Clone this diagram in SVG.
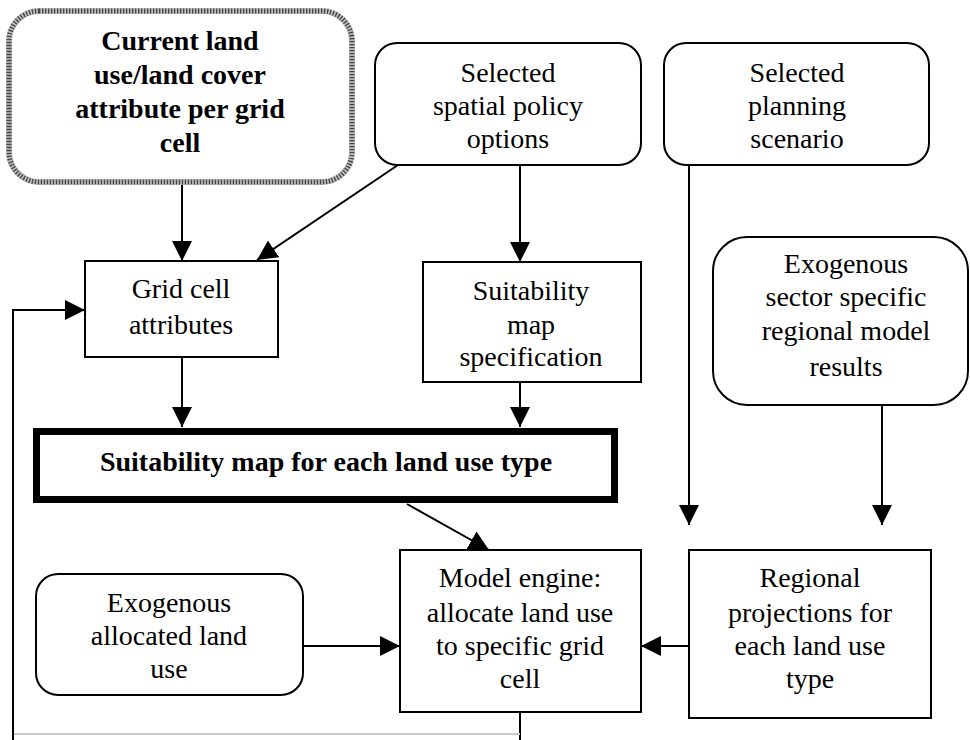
<svg xmlns="http://www.w3.org/2000/svg" width="970" height="740" viewBox="0 0 970 740">
  <defs>
    <marker id="arrow" markerUnits="userSpaceOnUse" markerWidth="20" markerHeight="20" refX="20" refY="10" orient="auto">
      <path d="M0,0 L20,10 L0,20 z" fill="#000"/>
    </marker>
  </defs>
  <style>
    text { font-family: "Liberation Serif", "Times New Roman", serif; font-size: 28px; fill: #000; text-anchor: middle; }
    .bold { font-weight: bold; }
    .box { fill: #fff; stroke: #000; stroke-width: 2; }
    .thick { fill: #fff; stroke: #000; stroke-width: 7; }
    .hatch-under { fill: #fff; stroke: #bdbdbd; stroke-width: 6; }
    .hatch { fill: none; stroke: #444; stroke-width: 5; stroke-dasharray: 1.3 1.7; }
    .link { fill: none; stroke: #000; stroke-width: 2; }
    .faint { fill: none; stroke: #c8c8c8; stroke-width: 2; }
  </style>

  <rect width="970" height="740" fill="#fff"/>

  <!-- connectors -->
  <g id="connectors">
    <line class="link" x1="182" y1="184" x2="182" y2="261" marker-end="url(#arrow)"/>
    <line class="link" x1="398" y1="165" x2="257" y2="260" marker-end="url(#arrow)"/>
    <line class="link" x1="520" y1="165" x2="520" y2="262" marker-end="url(#arrow)"/>
    <line class="link" x1="689" y1="165" x2="689" y2="525" marker-end="url(#arrow)"/>
    <line class="link" x1="882" y1="405" x2="882" y2="525" marker-end="url(#arrow)"/>
    <line class="link" x1="182" y1="357" x2="182" y2="427" marker-end="url(#arrow)"/>
    <line class="link" x1="520" y1="382" x2="520" y2="427" marker-end="url(#arrow)"/>
    <line class="link" x1="407" y1="504" x2="489" y2="550" marker-end="url(#arrow)"/>
    <line class="link" x1="303" y1="646" x2="400" y2="646" marker-end="url(#arrow)"/>
    <line class="link" x1="689" y1="646" x2="641" y2="646" marker-end="url(#arrow)"/>
    <!-- feedback loop from the model engine back to the grid cell attributes -->
    <line class="link" x1="520" y1="712" x2="520" y2="740"/>
    <line class="faint" x1="13" y1="734" x2="520" y2="734"/>
    <polyline class="link" points="13,740 13,310 85,310" marker-end="url(#arrow)"/>
  </g>

  <g id="current-land-use">
    <rect class="hatch-under" x="9" y="11" width="343" height="171" rx="30"/>
    <rect class="hatch" x="9" y="11" width="343" height="171" rx="30"/>
    <text class="bold" x="180" y="50">Current land</text>
    <text class="bold" x="180" y="84">use/land cover</text>
    <text class="bold" x="180" y="118">attribute per grid</text>
    <text class="bold" x="180" y="152">cell</text>
  </g>

  <g id="spatial-policy">
    <rect class="box" x="375" y="43" width="266" height="122" rx="22"/>
    <text x="508" y="82">Selected</text>
    <text x="508" y="115">spatial policy</text>
    <text x="508" y="148">options</text>
  </g>

  <g id="planning-scenario">
    <rect class="box" x="664" y="43" width="265" height="122" rx="22"/>
    <text x="797" y="82">Selected</text>
    <text x="797" y="115">planning</text>
    <text x="797" y="148">scenario</text>
  </g>

  <g id="grid-cell-attributes">
    <rect class="box" x="85" y="261" width="193" height="96"/>
    <text x="181" y="298">Grid cell</text>
    <text x="181" y="334">attributes</text>
  </g>

  <g id="suitability-spec">
    <rect class="box" x="423" y="262" width="218" height="120"/>
    <text x="531" y="300">Suitability</text>
    <text x="531" y="334">map</text>
    <text x="531" y="366">specification</text>
  </g>

  <g id="exogenous-sector">
    <rect class="box" x="713" y="237" width="255" height="168" rx="34"/>
    <text x="846" y="273">Exogenous</text>
    <text x="846" y="306">sector specific</text>
    <text x="846" y="340">regional model</text>
    <text x="846" y="376">results</text>
  </g>

  <g id="suitability-map">
    <rect class="thick" x="36.5" y="431.5" width="578" height="68"/>
    <text class="bold" x="326" y="471">Suitability map for each land use type</text>
  </g>

  <g id="exogenous-allocated">
    <rect class="box" x="36" y="574" width="267" height="121" rx="22"/>
    <text x="169" y="612">Exogenous</text>
    <text x="169" y="645">allocated land</text>
    <text x="169" y="678">use</text>
  </g>

  <g id="model-engine">
    <rect class="box" x="400" y="550" width="241" height="162"/>
    <text x="520" y="587">Model engine:</text>
    <text x="520" y="622">allocate land use</text>
    <text x="520" y="655">to specific grid</text>
    <text x="520" y="688">cell</text>
  </g>

  <g id="regional-projections">
    <rect class="box" x="689" y="550" width="242" height="168"/>
    <text x="810" y="587">Regional</text>
    <text x="810" y="622">projections for</text>
    <text x="810" y="655">each land use</text>
    <text x="810" y="688">type</text>
  </g>
</svg>
